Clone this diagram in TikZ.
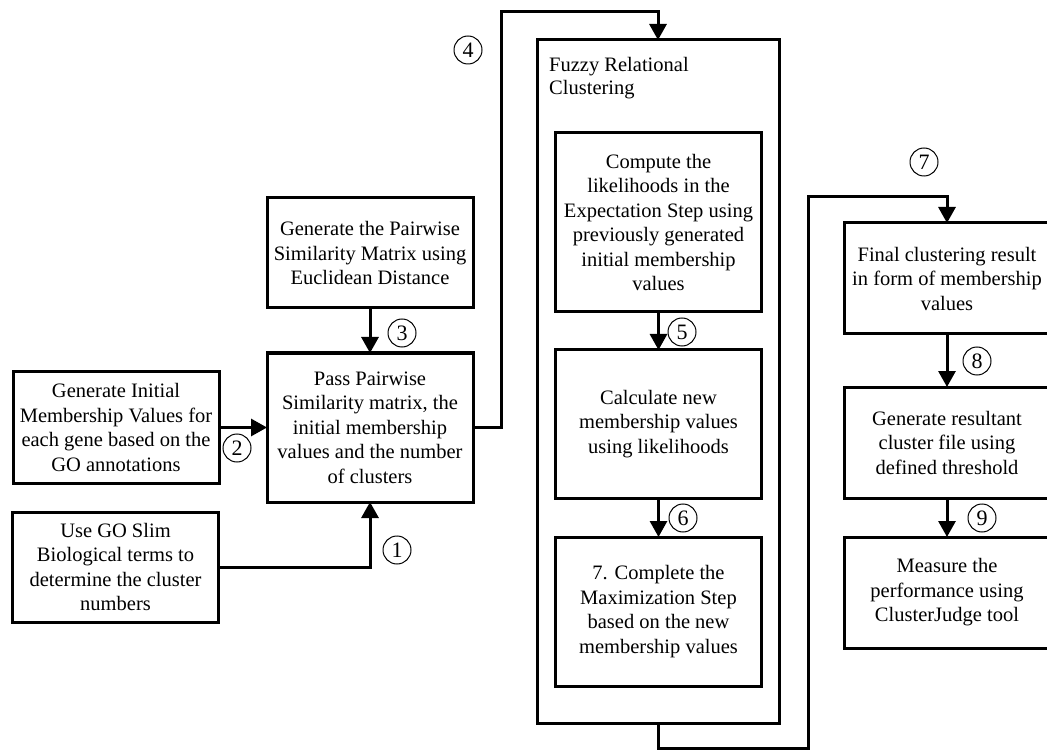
\documentclass[tikz,border=0pt]{standalone}
\usepackage{fontspec}
\setmainfont{Liberation Serif}
\usetikzlibrary{arrows.meta,positioning,calc}

\begin{document}
\begin{tikzpicture}[x=1pt, y=-1pt,
    stepbox/.style={draw, line width=3pt, align=center, inner sep=0pt,
                    outer sep=0pt, minimum width=206pt,
                    font=\fontsize{20.5}{24.5}\selectfont},
    num/.style={draw, circle, line width=1pt, inner sep=0pt,
                minimum size=28pt, font=\fontsize{22}{22}\selectfont},
    arr/.style={-{Triangle[length=16pt,width=17pt]}, line width=3pt},
    node distance=45pt
  ]
  \useasboundingbox (0,0) rectangle (1047,751);

  % input steps
  \node[stepbox, minimum height=110pt] (sim) at (370,253)
    {Generate the Pairwise\\Similarity Matrix using\\Euclidean Distance};
  \node[stepbox, minimum height=149pt, below=45pt of sim] (pass)
    {Pass Pairwise\\Similarity matrix, the\\initial membership\\values and the number\\of clusters};
  \node[stepbox, minimum height=112pt, left=48pt of pass] (init)
    {Generate Initial\\Membership Values for\\each gene based on the\\GO annotations};
  \node[stepbox, minimum height=110pt] (slim) at (115.5,567)
    {Use GO Slim\\Biological terms to\\determine the cluster\\numbers};

  % clustering block
  \node[draw, line width=3pt, minimum width=242pt, minimum height=683pt,
        inner sep=0pt, outer sep=0pt] (frc) at (658,381.5) {};
  \node[anchor=north west, align=left, inner sep=0pt,
        font=\fontsize{20.5}{23}\selectfont] (frctitle)
    at ($(frc.north west)+(12,17)$) {Fuzzy Relational\\Clustering};
  \node[stepbox, minimum height=179pt] (estep) at (658.5,222.5)
    {Compute the\\likelihoods in the\\Expectation Step using\\previously generated\\initial membership\\values};
  \node[stepbox, minimum height=148pt, below=38pt of estep] (calc)
    {Calculate new\\membership values\\using likelihoods};
  \node[stepbox, minimum height=149pt, below=39pt of calc] (mstep)
    {7. Complete the\\Maximization Step\\based on the new\\membership values};

  % output steps
  \node[stepbox, minimum height=111pt] (final) at (947,278.5)
    {Final clustering result\\in form of membership\\values};
  \node[stepbox, minimum height=111pt, below=53pt of final] (result)
    {Generate resultant\\cluster file using\\defined threshold};
  \node[stepbox, minimum height=111pt, below=39pt of result] (judge)
    {Measure the\\performance using\\ClusterJudge tool};

  % connectors
  \coordinate (top4) at (501,12);
  \coordinate (low7) at (658,748);
  \coordinate (up7) at (808,197);
  \draw[arr] (slim.east) -| (pass.south);
  \draw[arr] (init.east) -- (init.east -| pass.west);
  \draw[arr] (sim) -- (pass);
  \draw[arr] (pass.east) -| (top4) -| (frc.north);
  \draw[arr] (estep) -- (calc);
  \draw[arr] (calc) -- (mstep);
  \draw[arr] (frc.south) -- (low7) -| (up7) -| (final.north);
  \draw[arr] (final) -- (result);
  \draw[arr] (result) -- (judge);

  % step numbers
  \node[num] (n1) at (397,550) {1};
  \node[num] (n2) at (237,448) {2};
  \node[num] (n3) at (402,333) {3};
  \node[num] (n4) at (468,50) {4};
  \node[num] (n5) at (682,332) {5};
  \node[num] (n6) at (683,518) {6};
  \node[num] (n7) at (924,162) {7};
  \node[num] (n8) at (977,361) {8};
  \node[num] (n9) at (982,518) {9};
\end{tikzpicture}
\end{document}
